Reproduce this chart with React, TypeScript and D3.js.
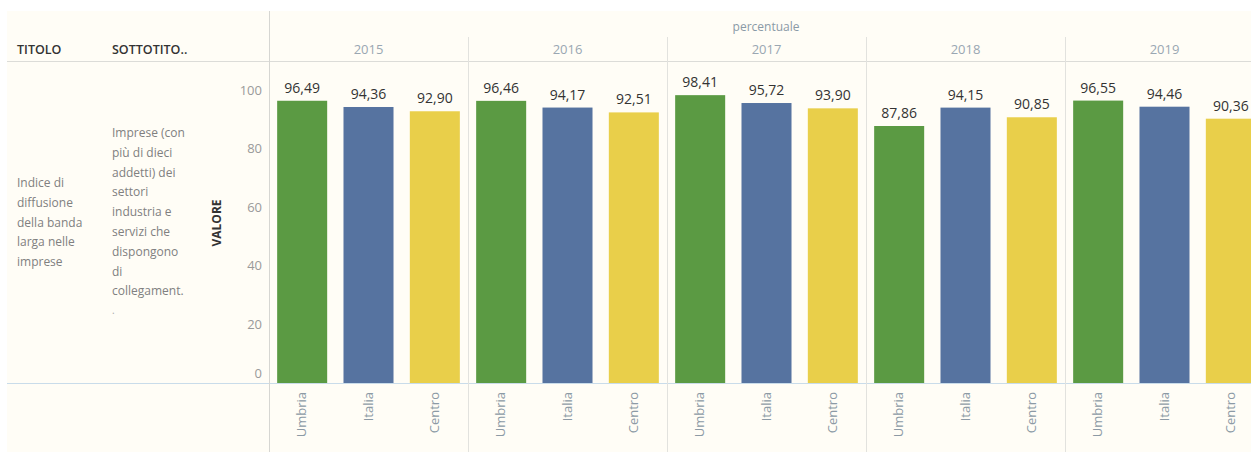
import React, { useEffect, useRef } from "react";
import * as d3 from "d3";

const years = ["2015", "2016", "2017", "2018", "2019"];
const regions = ["Umbria", "Italia", "Centro"];
const umbria = [96.49, 96.46, 98.41, 87.86, 96.55];
const italia = [94.36, 94.17, 95.72, 94.15, 94.46];
const centro = [92.9, 92.51, 93.9, 90.85, 90.36];
const yTicks = [0, 20, 40, 60, 80, 100];
const titolo = ["Indice di", "diffusione", "della banda", "larga nelle", "imprese"];
const sottotitolo = [
  "Imprese (con",
  "più di dieci",
  "addetti) dei",
  "settori",
  "industria e",
  "servizi che",
  "dispongono",
  "di",
  "collegament.",
];

const colors: Record<string, string> = {
  Umbria: "#5b9a43",
  Italia: "#5673a0",
  Centro: "#e9cf4a",
};

const W = 1251;
const H = 452;
const FONT = "'Open Sans', 'DejaVu Sans', sans-serif";

export default function App() {
  const ref = useRef<SVGSVGElement>(null);

  useEffect(() => {
    const svg = d3.select(ref.current);
    svg.selectAll("*").remove();

    const paneLeft = 269;
    const paneW = 199;
    const base = 383;

    const x0 = d3
      .scaleBand<string>()
      .domain(years)
      .range([paneLeft, paneLeft + paneW * years.length]);
    const x1 = d3
      .scaleBand<string>()
      .domain(regions)
      .range([0, paneW])
      .paddingInner(0.246)
      .paddingOuter(0.123);
    const y = d3.scaleLinear().domain([0, 100]).range([base, 90.5]);

    const data = years.flatMap((yr, i) => [
      { year: yr, region: "Umbria", value: umbria[i] },
      { year: yr, region: "Italia", value: italia[i] },
      { year: yr, region: "Centro", value: centro[i] },
    ]);

    // background
    svg.append("rect").attr("x", 7).attr("y", 11).attr("width", W - 7).attr("height", H - 11).attr("fill", "#fffdf6");

    // grid lines
    svg.append("line").attr("x1", 7).attr("x2", W).attr("y1", 61.5).attr("y2", 61.5).attr("stroke", "#dcdcd8");
    svg.append("line").attr("x1", 7).attr("x2", W).attr("y1", base + 0.5).attr("y2", base + 0.5).attr("stroke", "#c9dcea");
    svg.append("line").attr("x1", paneLeft + 0.5).attr("x2", paneLeft + 0.5).attr("y1", 11).attr("y2", H).attr("stroke", "#d6d6d2");
    years.slice(1).forEach((yr) => {
      const xx = Math.round(x0(yr)!) + 0.5;
      svg.append("line").attr("x1", xx).attr("x2", xx).attr("y1", 37).attr("y2", H).attr("stroke", "#e2e2de");
    });

    // header
    svg.append("text").attr("x", 766).attr("y", 31).attr("text-anchor", "middle")
      .attr("font-size", 12).attr("fill", "#8a9aa6").attr("font-family", FONT).text("percentuale");
    svg.selectAll(".yr").data(years).enter().append("text")
      .attr("x", (d) => x0(d)! + paneW / 2).attr("y", 54).attr("text-anchor", "middle")
      .attr("font-size", 13).attr("fill", "#9aa7b2").attr("font-family", FONT).text((d) => d);
    svg.append("text").attr("x", 17).attr("y", 54).attr("font-size", 12.5).attr("font-weight", 600)
      .attr("fill", "#333").attr("font-family", FONT).text("TITOLO");
    svg.append("text").attr("x", 112).attr("y", 54).attr("font-size", 12.5).attr("font-weight", 600)
      .attr("fill", "#333").attr("font-family", FONT).text("SOTTOTITO..");

    // row headers
    svg.append("g").selectAll("text").data(titolo).enter().append("text")
      .attr("x", 17).attr("y", (d, i) => 187 + i * 19.8)
      .attr("font-size", 12).attr("fill", "#808080").attr("font-family", FONT).text((d) => d);
    svg.append("g").selectAll("text").data(sottotitolo).enter().append("text")
      .attr("x", 112).attr("y", (d, i) => 137 + i * 19.8)
      .attr("font-size", 12).attr("fill", "#808080").attr("font-family", FONT).text((d) => d);
    svg.append("text").attr("x", 112).attr("y", 314).attr("font-size", 10).attr("fill", "#aaa")
      .attr("font-family", FONT).text(".");

    // y axis
    svg.append("text").attr("transform", "translate(221,223) rotate(-90)").attr("text-anchor", "middle")
      .attr("font-size", 12).attr("font-weight", 700).attr("fill", "#333").attr("font-family", FONT).text("VALORE");
    svg.append("g").selectAll("text").data(yTicks).enter().append("text")
      .attr("x", 262).attr("y", (d) => (d === 0 ? y(d) - 5 : y(d) + 4))
      .attr("text-anchor", "end").attr("font-size", 13).attr("fill", "#9a9a9a")
      .attr("font-family", FONT).text((d) => d);

    // bars
    const fmt = (v: number) => v.toFixed(2).replace(".", ",");
    svg.append("g").selectAll("rect").data(data).enter().append("rect")
      .attr("x", (d) => x0(d.year)! + x1(d.region)!)
      .attr("y", (d) => y(d.value))
      .attr("width", x1.bandwidth())
      .attr("height", (d) => base - y(d.value))
      .attr("fill", (d) => colors[d.region]);
    svg.append("g").selectAll("text").data(data).enter().append("text")
      .attr("x", (d) => x0(d.year)! + x1(d.region)! + x1.bandwidth() / 2)
      .attr("y", (d) => y(d.value) - 8)
      .attr("text-anchor", "middle").attr("font-size", 14).attr("fill", "#333")
      .attr("font-family", FONT).text((d) => fmt(d.value));

    // x labels
    svg.append("g").selectAll("text").data(data).enter().append("text")
      .attr("transform", (d) => `translate(${x0(d.year)! + x1(d.region)! + x1.bandwidth() / 2 + 4},392) rotate(-90)`)
      .attr("text-anchor", "end").attr("font-size", 13).attr("fill", "#8c9aa5")
      .attr("font-family", FONT).text((d) => d.region);
  }, []);

  return (
    <svg
      ref={ref}
      width={W}
      height={H}
      style={{ position: "absolute", left: 0, top: 0, background: "#fff" }}
    />
  );
}
